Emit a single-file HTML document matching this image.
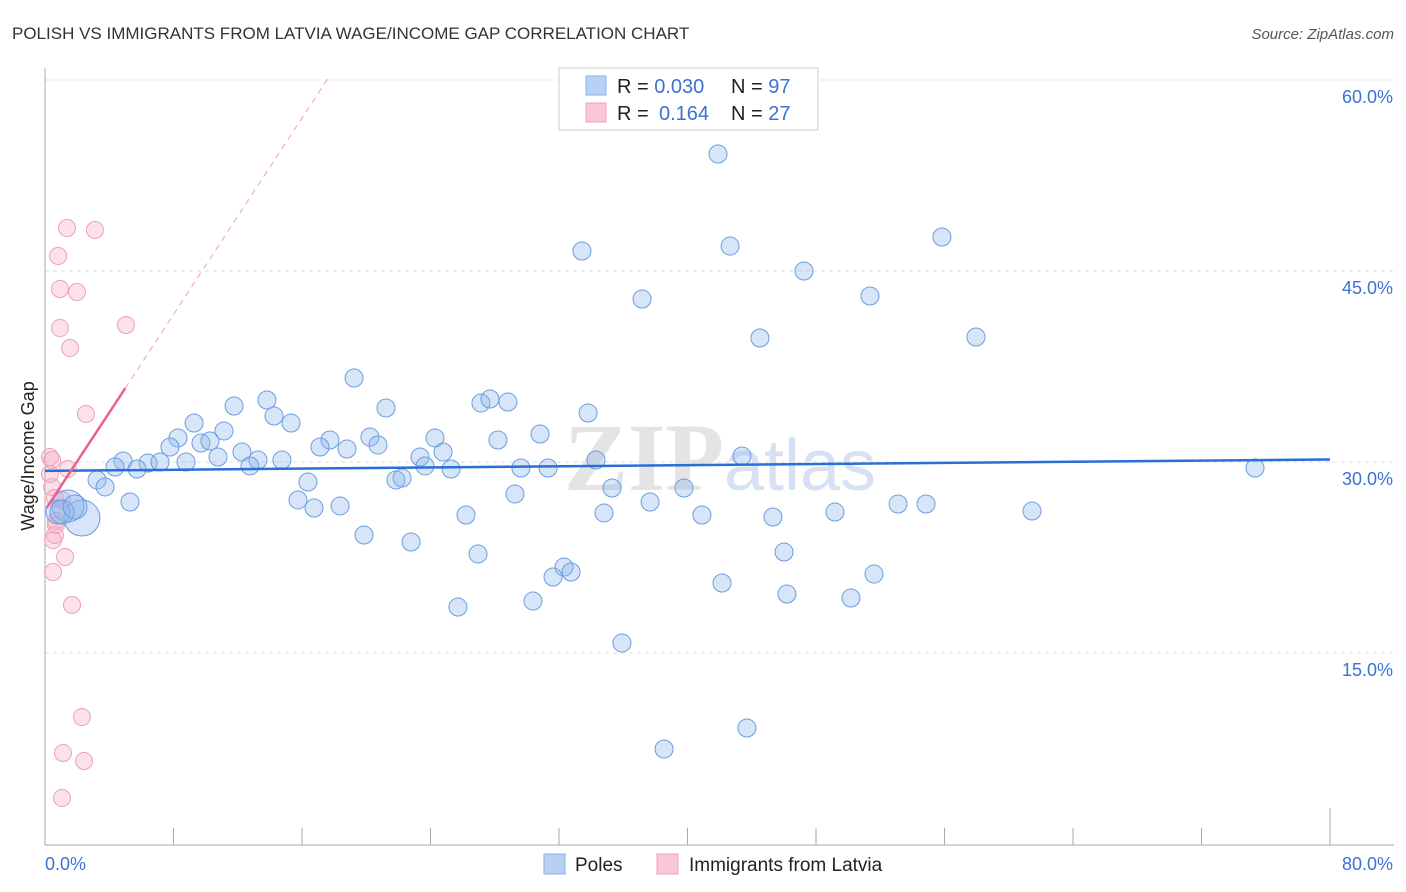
<!DOCTYPE html>
<html><head><meta charset="utf-8"><style>
body{margin:0;background:#fff;font-family:"Liberation Sans",sans-serif;}
svg{display:block}
</style></head><body>
<svg id="chart" width="1406" height="892" xmlns="http://www.w3.org/2000/svg">
<text x="12" y="39" font-size="17" fill="#333">POLISH VS IMMIGRANTS FROM LATVIA WAGE/INCOME GAP CORRELATION CHART</text>
<text x="1394" y="39" font-size="15" fill="#555" font-style="italic" text-anchor="end">Source: ZipAtlas.com</text>
<text x="720" y="490" font-size="96" fill="#e4e4e4" text-anchor="middle" font-family="Liberation Serif,serif" font-weight="bold">ZIP<tspan fill="#d6e2f4" font-family="Liberation Sans,sans-serif" font-weight="normal" font-size="72">atlas</tspan></text>
<g id="grid"></g>
<g id="axes"></g>
<g id="marks"></g>
<text transform="translate(34,456) rotate(-90)" font-size="18" fill="#222" text-anchor="middle">Wage/Income Gap</text>
<g>
<rect x="559" y="68" width="259" height="62" fill="#fff" stroke="#ccc"/>
<rect x="586" y="76" width="20" height="19" fill="#b8d1f3" stroke="#8ab0e8"/>
<rect x="586" y="103" width="20" height="19" fill="#f9c7d5" stroke="#eea0b8"/>
<text x="617" y="93" font-size="20" fill="#222">R = <tspan fill="#3b72d6">0.030</tspan><tspan x="731">N = </tspan><tspan fill="#3b72d6">97</tspan></text>
<text x="617" y="120" font-size="20" fill="#222">R = <tspan x="659" fill="#3b72d6">0.164</tspan><tspan x="731">N = </tspan><tspan fill="#3b72d6">27</tspan></text>
</g>
<g>
<rect x="544" y="854" width="21" height="20" fill="#b8d1f3" stroke="#8ab0e8"/>
<text x="575" y="871" font-size="19" fill="#222">Poles</text>
<rect x="657" y="854" width="21" height="20" fill="#f9c7d5" stroke="#eea0b8"/>
<text x="689" y="871" font-size="19" fill="#222">Immigrants from Latvia</text>
</g>
</svg>
<script>
const NS="http://www.w3.org/2000/svg";
const yTicks=[15,30,45,60];
const yTickLabels=["15.0%","30.0%","45.0%","60.0%"];
const xTicks=[0,8,16,24,32,40,48,56,64,72,80];
const polesPx=[[718,154],[582,251],[730,246],[942,237],[804,271],[642,299],[870,296],[760,338],[976,337],[354,378],[267,400],[234,406],[386,408],[481,403],[490,399],[508,402],[588,413],[194,423],[274,416],[291,423],[224,431],[178,438],[330,440],[370,437],[435,438],[498,440],[540,434],[170,447],[201,443],[210,441],[242,452],[320,447],[347,449],[378,445],[443,452],[420,457],[742,456],[123,461],[148,463],[160,462],[186,462],[218,457],[258,460],[282,460],[250,466],[137,469],[115,467],[425,466],[451,469],[521,468],[548,468],[596,460],[1255,468],[97,480],[105,487],[308,482],[396,480],[402,478],[612,488],[684,488],[515,494],[130,502],[298,500],[314,508],[340,506],[650,502],[898,504],[926,504],[466,515],[604,513],[702,515],[773,517],[835,512],[1032,511],[364,535],[411,542],[478,554],[784,552],[564,567],[571,572],[553,577],[874,574],[722,583],[458,607],[533,601],[787,594],[851,598],[622,643],[747,728],[664,749],[82,518],[68,506],[58,512],[62,512],[75,507]];
const polesX=polesPx.map(p=>+((p[0]-45)/1285*80).toFixed(2));
const polesY=polesPx.map(p=>+((844-p[1])/12.733).toFixed(2));
const polesBig=[0,0,0,0,0,0,0,0,0,0,0,0,0,0,0,0,0,0,0,0,0,0,0,0,0,0,0,0,0,0,0,0,0,0,0,0,0,0,0,0,0,0,0,0,0,0,0,0,0,0,0,0,0,0,0,0,0,0,0,0,0,0,0,0,0,0,0,0,0,0,0,0,0,0,0,0,0,0,0,0,0,0,0,0,0,0,0,0,0,0,18,16,12,12,12];
const latPx=[[67,228],[95,230],[58,256],[60,289],[77,292],[60,328],[126,325],[70,348],[86,414],[50,457],[52,460],[68,469],[52,487],[55,498],[62,500],[56,525],[55,535],[53,540],[65,557],[53,572],[72,605],[82,717],[63,753],[84,761],[62,798],[50,474],[56,521]];
const latX=latPx.map(p=>+((p[0]-45)/1285*80).toFixed(2));
const latY=latPx.map(p=>+((844-p[1])/12.733).toFixed(2));
const polesTrend=[[0,29.3],[80,30.2]];
const latTrend=[[0.1,26.4],[5.0,35.8]];
const latTrendExt=[[5.0,35.8],[17.6,60.1]];
const X=v=>45+v/80*1285, Y=v=>844-v*12.733;
function el(tag,attrs,parent){const e=document.createElementNS(NS,tag);for(const k in attrs)e.setAttribute(k,attrs[k]);parent.appendChild(e);return e;}
const grid=document.getElementById('grid'),axes=document.getElementById('axes'),marks=document.getElementById('marks');
yTicks.forEach((t,i)=>{
 const l=el('line',{x1:45,x2:1394,y1:Y(t),y2:Y(t),stroke:'#ddd','stroke-dasharray':'4,4'},grid);
 
 
 const tx=el('text',{x:1393,y:Y(t)+23,'font-size':18,fill:'#3b72d6','text-anchor':'end'},axes);
 tx.textContent=yTickLabels[i];
 
 
});
const ya=el('line',{x1:45,x2:45,y1:68,y2:845,stroke:'#aaa'},axes);


const xa=el('line',{x1:45,x2:1394,y1:845,y2:845,stroke:'#aaa'},axes);


xTicks.forEach((t,i)=>{if(i==0)return;
 const tk=el('line',{x1:X(t),x2:X(t),y1:i==xTicks.length-1?808:828,y2:845,stroke:'#aaa'},axes);
 
 
});
const xl0=el('text',{x:45,y:870,'font-size':18,fill:'#3b72d6'},axes);xl0.textContent="0.0%";


const xl1=el('text',{x:1393,y:870,'font-size':18,fill:'#3b72d6','text-anchor':'end'},axes);xl1.textContent="80.0%";


latX.forEach((x,i)=>{
 const c=el('circle',{cx:X(x),cy:Y(latY[i]),r:8.5,fill:'rgba(246,170,195,0.35)',stroke:'#eea0b8','stroke-width':1},marks);
 
 
});
polesX.forEach((x,i)=>{
 const c=el('circle',{cx:X(x),cy:Y(polesY[i]),r:polesBig[i]||9,fill:'rgba(140,180,235,0.35)',stroke:'#6c9de0','stroke-width':1},marks);
 
 
});
const pt=el('line',{x1:X(polesTrend[0][0]),y1:Y(polesTrend[0][1]),x2:X(polesTrend[1][0]),y2:Y(polesTrend[1][1]),stroke:'#2a6fd6','stroke-width':2.5},marks);


const lt=el('line',{x1:X(latTrend[0][0]),y1:Y(latTrend[0][1]),x2:X(latTrend[1][0]),y2:Y(latTrend[1][1]),stroke:'#e8638c','stroke-width':2.5},marks);


const le=el('line',{x1:X(latTrendExt[0][0]),y1:Y(latTrendExt[0][1]),x2:X(latTrendExt[1][0]),y2:Y(latTrendExt[1][1]),stroke:'#eea0b8','stroke-width':1,'stroke-dasharray':'6,5'},marks);


</script>
</body></html>
